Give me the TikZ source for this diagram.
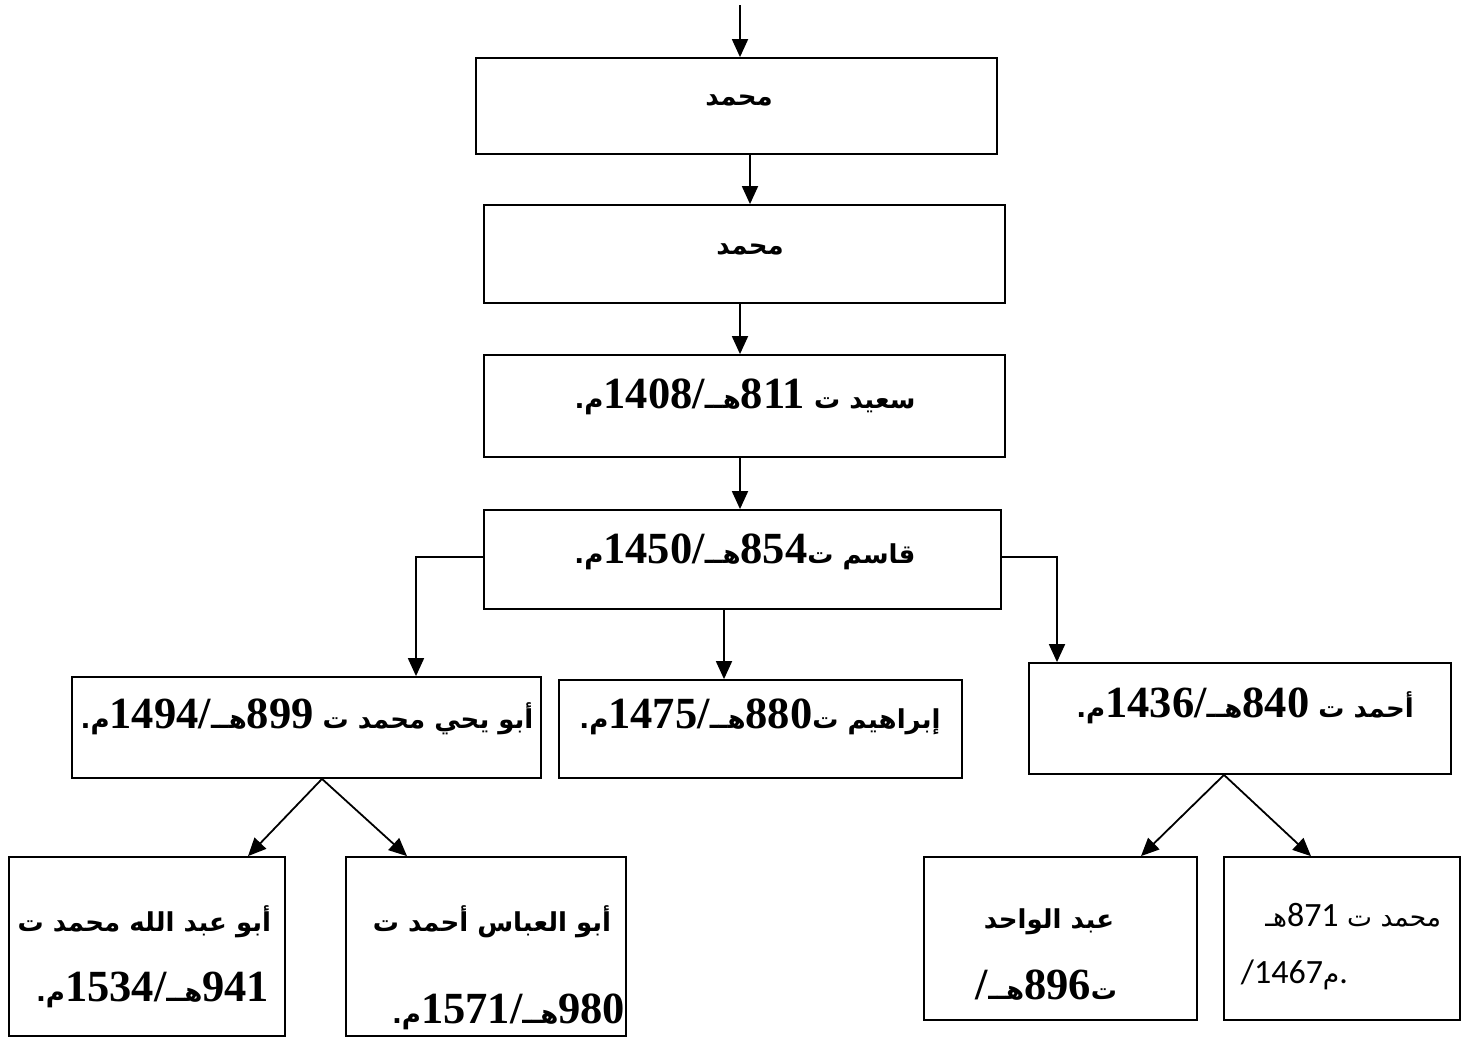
\documentclass[tikz,border=0pt]{standalone}
\usepackage{fontspec}
\usepackage{tikz}
\usetikzlibrary{arrows.meta}
\TeXXeTstate=1
\newfontfamily\arabicfont[Script=Arabic,Scale=0.62]{DejaVu Sans}
\newfontfamily\arabicsans[Script=Arabic,Scale=0.78]{DejaVu Sans}
\newfontfamily\numfont[Scale=1.06]{Liberation Serif}
\newfontfamily\sansnum{Carlito}
\newcommand{\yr}[1]{\beginL{\numfont\bfseries #1}\endL}
\newcommand{\yrs}[1]{\beginL{\sansnum #1}\endL}
\newcommand{\slh}{{\numfont\bfseries/}}
\tikzset{every picture/.style={line width=1.8pt}}

\begin{document}
\begin{tikzpicture}[x=1pt,y=1pt,yscale=-1,xscale=1,
  box/.style={draw,inner sep=0pt},
  arr/.style={-{Triangle[width=16pt,length=18pt]}},
  lbl/.style={inner sep=0pt,font=\arabicfont\bfseries\fontsize{42}{50}\selectfont},
  lbs/.style={inner sep=0pt,font=\arabicsans\fontsize{34}{40}\selectfont}]
\useasboundingbox (0,0) rectangle (1476,1045);

%Shape: Rectangle
\node[box,minimum width=521pt,minimum height=96pt] (b1) at (736.5,106) {};
%Shape: Rectangle
\node[box,minimum width=521pt,minimum height=98pt] (b2) at (744.5,254) {};
%Shape: Rectangle
\node[box,minimum width=521pt,minimum height=102pt] (b3) at (744.5,406) {};
%Shape: Rectangle
\node[box,minimum width=517pt,minimum height=99pt] (b4) at (742.5,559.5) {};
%Shape: Rectangle
\node[box,minimum width=469pt,minimum height=101pt] (b5) at (306.5,727.5) {};
%Shape: Rectangle
\node[box,minimum width=403pt,minimum height=98pt] (b6) at (760.5,729) {};
%Shape: Rectangle
\node[box,minimum width=422pt,minimum height=111pt] (b7) at (1240,718.5) {};
%Shape: Rectangle
\node[box,minimum width=276pt,minimum height=179pt] (b8) at (147,946.5) {};
%Shape: Rectangle
\node[box,minimum width=280pt,minimum height=179pt] (b9) at (486,946.5) {};
%Shape: Rectangle
\node[box,minimum width=273pt,minimum height=163pt] (b10) at (1060.5,938.5) {};
%Shape: Rectangle
\node[box,minimum width=236pt,minimum height=163pt] (b11) at (1342,938.5) {};

%Straight Lines
\coordinate (top) at (740,5);
\draw[arr] (top) -- ([xshift=3.5pt]b1.north);
\draw[arr] ([xshift=13.5pt]b1.south) -- ([xshift=5.5pt]b2.north);
\draw[arr] ([xshift=-4.5pt]b2.south) -- ([xshift=-4.5pt]b3.north);
\draw[arr] ([xshift=-4.5pt]b3.south) -- ([xshift=-2.5pt]b4.north);
\draw[arr] ([xshift=-18.5pt]b4.south) -- ([xshift=-36.5pt]b6.north);
\draw[arr] ([yshift=-2.5pt]b4.west) -| ([xshift=109.5pt]b5.north);
\draw[arr] ([yshift=-2.5pt]b4.east) -| ([xshift=-183pt]b7.north);
\draw[arr] ([xshift=15.5pt]b5.south) -- ([xshift=101pt]b8.north);
\draw[arr] ([xshift=15.5pt]b5.south) -- ([xshift=-79pt]b9.north);
\draw[arr] ([xshift=-16pt]b7.south) -- ([xshift=80.5pt]b10.north);
\draw[arr] ([xshift=-16pt]b7.south) -- ([xshift=-31pt]b11.north);

% Text Node
\node[lbl] (t1) at (739,100) {\beginR محمد\endR};
% Text Node
\node[lbl] (t2) at (750,249) {\beginR محمد\endR};
% Text Node
\node[lbl] (t3) at (745,397) {\beginR سعيد ت \yr{811}هــ\slh\yr{1408}م.\endR};
% Text Node
\node[lbl] (t4) at (745,552) {\beginR قاسم ت\yr{854}هــ\slh\yr{1450}م.\endR};
% Text Node
\node[lbl] (t5) at (307,717) {\beginR أبو يحي محمد ت \yr{899}هــ\slh\yr{1494}م.\endR};
% Text Node
\node[lbl] (t6) at (760,717) {\beginR إبراهيم ت\yr{880}هــ\slh\yr{1475}م.\endR};
% Text Node
\node[lbl] (t7) at (1245,706) {\beginR أحمد ت \yr{840}هــ\slh\yr{1436}م.\endR};
% Text Node
\node[lbl,anchor=east] (t8a) at (272,922) {\beginR أبو عبد الله محمد ت\endR};
\node[lbl,anchor=east] (t8b) at (270,990) {\beginR \yr{941}هــ\slh\yr{1534}م.\endR};
% Text Node
\node[lbl,anchor=east] (t9a) at (612,922) {\beginR أبو العباس أحمد ت\endR};
\node[lbl,anchor=east] (t9b) at (626,1012) {\beginR \yr{980}هــ\slh\yr{1571}م.\endR};
% Text Node
\node[lbl,anchor=east] (t10a) at (1115,922) {\beginR عبد الواحد\endR};
\node[lbl,anchor=east] (t10b) at (1118,985) {\beginR ت\yr{896}هــ\slh\endR};
% Text Node
\node[lbs,anchor=east] (t11a) at (1442,915) {\beginR محمد ت \yrs{871}هـ\endR};
\node[lbs,anchor=west] (t11b) at (1240,975) {{\sansnum /1467}م{\sansnum .}};

\end{tikzpicture}
\end{document}
